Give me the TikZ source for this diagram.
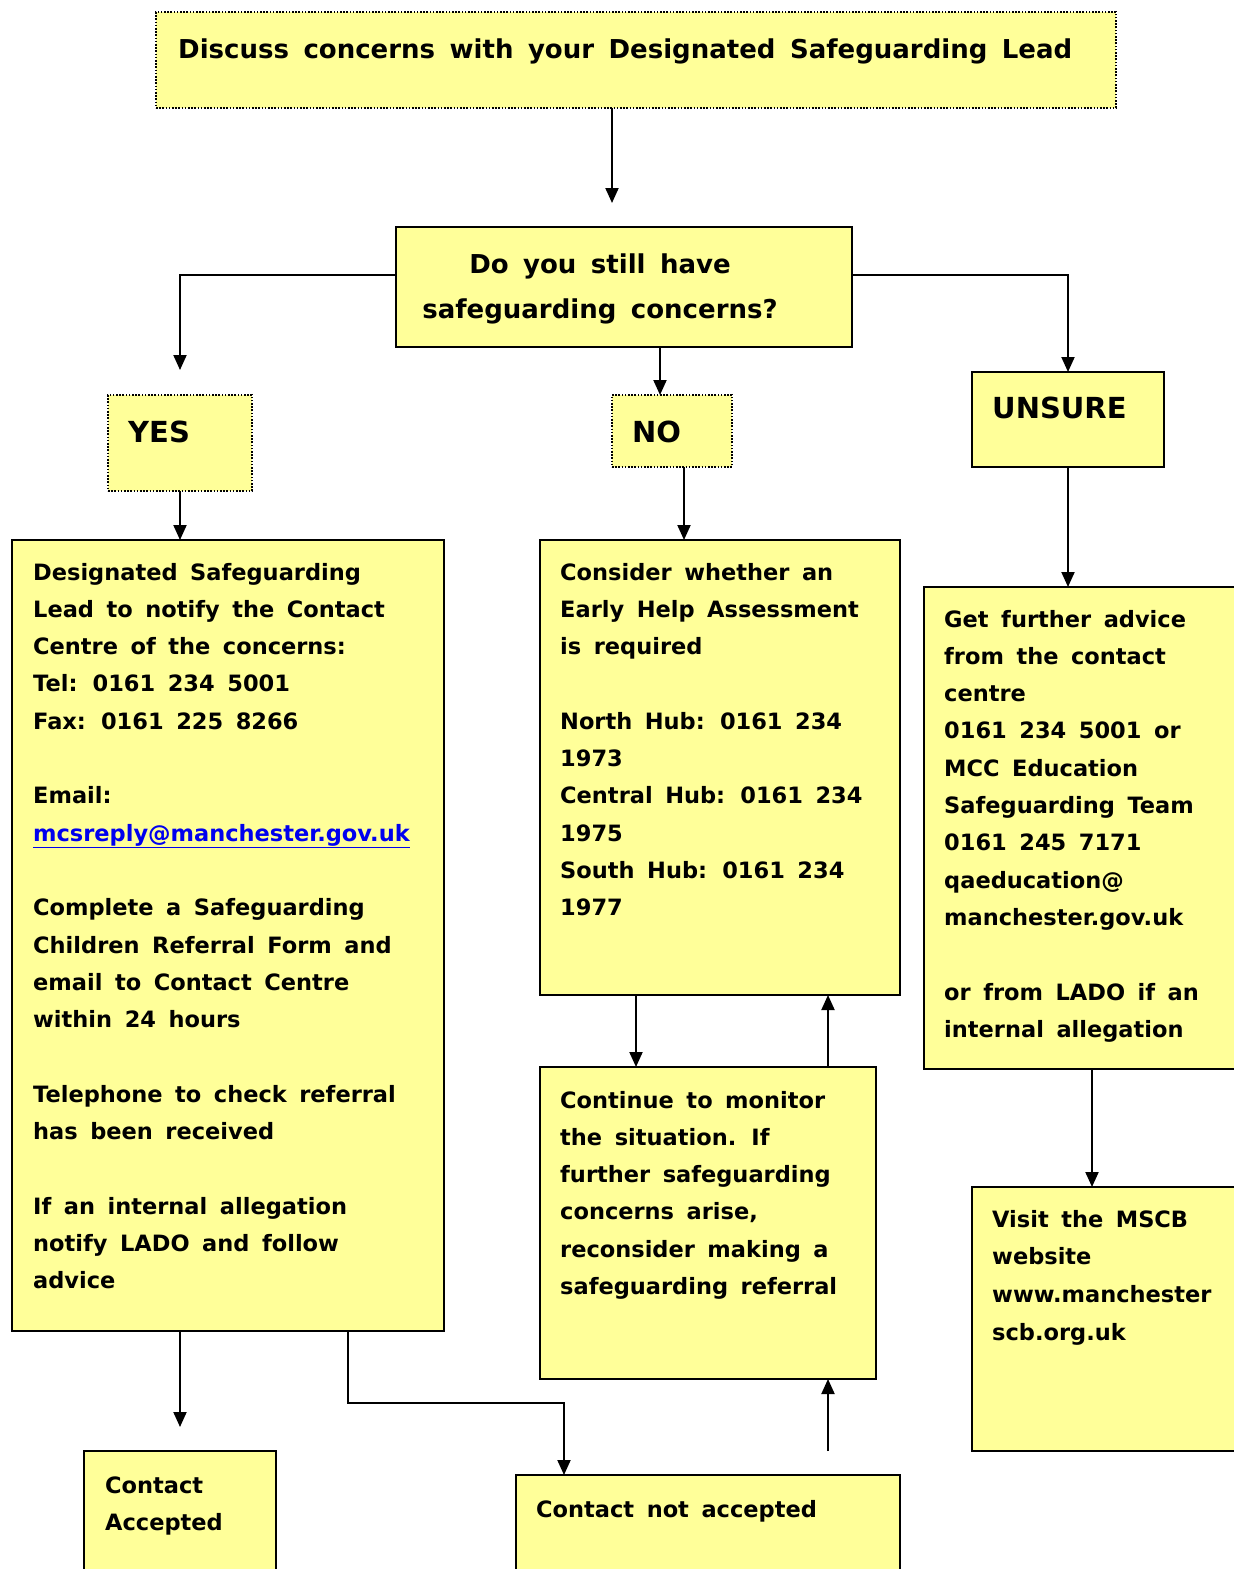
\documentclass[tikz,border=0pt]{standalone}
\usepackage{fontspec}
\setmainfont{DejaVu Sans}[WordSpace=1.6]
\usetikzlibrary{arrows.meta,calc}
\definecolor{boxfill}{HTML}{FFFF99}
\definecolor{linkblue}{HTML}{0000EE}
\newcommand{\txtblock}[2]{\parbox[t]{#1pt}{\raggedright #2}}
\newcommand{\gapline}{\\[37.3pt]}
\tikzset{
  box/.style={draw=black, line width=2pt, fill=boxfill, rectangle, inner sep=0pt, outer sep=0pt, anchor=north west},
  dotbox/.style={box, dash pattern=on 1.6pt off 1.6pt, line width=1.6pt},
  arr/.style={line width=2pt, -{Triangle[width=13pt,length=15pt]}},
  ln/.style={line width=2pt},
  body/.style={anchor=base west, inner sep=0pt, font=\bfseries\fontsize{22.5}{37.3}\selectfont},
  big/.style={anchor=base west, inner sep=0pt, font=\bfseries\fontsize{29}{35}\selectfont}
}
\begin{document}
\begin{tikzpicture}[x=1pt,y=-1pt]
\useasboundingbox (0,0) rectangle (1234,1569);
% boxes
\node[dotbox, minimum width=960pt, minimum height=96pt] (top) at (156,12) {};
\node[box, minimum width=456pt, minimum height=120pt] (q) at (396,227) {};
\node[dotbox, minimum width=144pt, minimum height=96pt] (yes) at (108,395) {};
\node[dotbox, minimum width=120pt, minimum height=72pt] (no) at (612,395) {};
\node[box, minimum width=192pt, minimum height=95pt] (unsure) at (972,372) {};
\node[box, minimum width=432pt, minimum height=791pt] (b1) at (12,540) {};
\node[box, minimum width=360pt, minimum height=455pt] (b2) at (540,540) {};
\node[box, minimum width=320pt, minimum height=482pt] (b3) at (924,587) {};
\node[box, minimum width=336pt, minimum height=312pt] (b4) at (540,1067) {};
\node[box, minimum width=280pt, minimum height=264pt] (b5) at (972,1187) {};
\node[box, minimum width=192pt, minimum height=150pt] (b6) at (84,1451) {};
\node[box, minimum width=384pt, minimum height=130pt] (b7) at (516,1475) {};
% texts
\node[anchor=base west, inner sep=0pt, font=\bfseries\fontsize{26}{40}\selectfont] (ttop) at (178,58) {Discuss concerns with your Designated Safeguarding Lead};
\node[anchor=base, inner sep=0pt, font=\bfseries\fontsize{26}{45}\selectfont] (tq) at (600,273) {\parbox[t]{440pt}{\centering Do you still have\\ safeguarding concerns?}};
\node[big] (tyes) at (128,442) {YES};
\node[big] (tno) at (632,442) {NO};
\node[big] (tunsure) at (992,418) {UNSURE};
\node[body] (t1) at (33,580) {\txtblock{405}{Designated Safeguarding\\ Lead to notify the Contact\\ Centre of the concerns:\\ Tel: 0161 234 5001\\ Fax: 0161 225 8266\gapline Email:\\ \textcolor{linkblue}{\underline{mcsreply@manchester.gov.uk}}\gapline Complete a Safeguarding\\ Children Referral Form and\\ email to Contact Centre\\ within 24 hours\gapline Telephone to check referral\\ has been received\gapline If an internal allegation\\ notify LADO and follow\\ advice}};
\node[body] (t2) at (560,580) {\txtblock{335}{Consider whether an\\ Early Help Assessment\\ is required\gapline North Hub: 0161 234\\ 1973\\ Central Hub: 0161 234\\ 1975\\ South Hub: 0161 234\\ 1977}};
\node[body] (t3) at (944,627) {\txtblock{285}{Get further advice\\ from the contact\\ centre\\ 0161 234 5001 or\\ MCC Education\\ Safeguarding Team\\ 0161 245 7171\\ qaeducation@\\ manchester.gov.uk\gapline or from LADO if an\\ internal allegation}};
\node[body] (t4) at (560,1108) {\txtblock{310}{Continue to monitor\\ the situation. If\\ further safeguarding\\ concerns arise,\\ reconsider making a\\ safeguarding referral}};
\node[body, font=\bfseries\fontsize{22.5}{37.7}\selectfont] (t5) at (992,1227) {\txtblock{240}{Visit the MSCB\\ website\\ www.manchester\\ scb.org.uk}};
\node[body] (t6) at (105,1493) {\txtblock{170}{Contact\\ Accepted}};
\node[body] (t7) at (536,1517) {Contact not accepted};
% free ends
\coordinate (e1) at ([xshift=-24pt]top.south |- 0,203);
\coordinate (e2) at (180,370);
\coordinate (e3) at ([xshift=-48pt]b1.south |- 0,1427);
\coordinate (s4) at ([xshift=120pt]b4.south |- 0,1451);
% connectors
\draw[arr] ([xshift=-24pt]top.south) -- (e1);
\draw[arr] ([yshift=12pt]q.west) -| (e2);
\draw[arr] ([xshift=36pt]q.south) -- ([xshift=36pt]q.south |- no.north);
\draw[arr] ([yshift=12pt]q.east) -| (unsure.north);
\draw[arr] (yes.south) -- (yes.south |- b1.north);
\draw[arr] ([xshift=12pt]no.south) -- ([xshift=12pt]no.south |- b2.north);
\draw[arr] (unsure.south) -- (unsure.south |- b3.north);
\draw[arr] ([xshift=-84pt]b2.south) -- ([xshift=-84pt]b2.south |- b4.north);
\draw[arr] ([xshift=120pt]b4.north) -- ([xshift=120pt]b4.north |- b2.south);
\draw[arr] ([xshift=8pt]b3.south) -- ([xshift=8pt]b3.south |- b5.north);
\draw[arr] ([xshift=-48pt]b1.south) -- (e3);
\draw[arr] ([xshift=120pt]b1.south) -- ++(0,72) -| ([xshift=-144pt]b7.north);
\draw[arr] (s4) -- (b4.south -| s4);
\end{tikzpicture}
\end{document}
